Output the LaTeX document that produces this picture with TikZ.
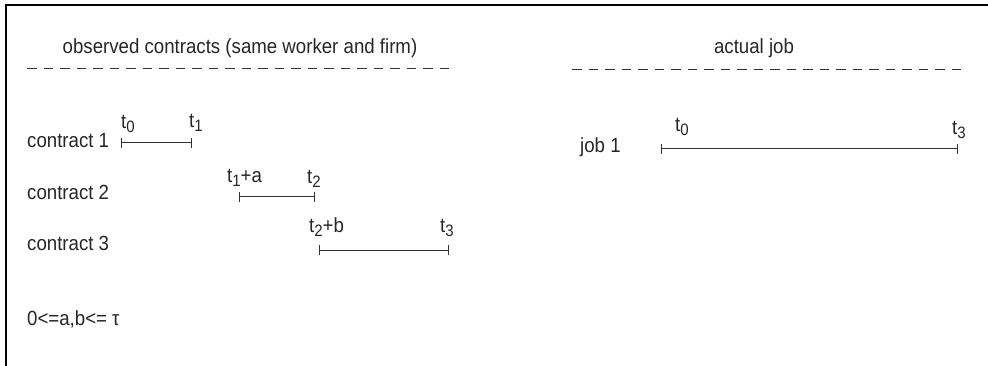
\documentclass[tikz,border=0pt]{standalone}
\usepackage{fontspec}
\setmainfont{Liberation Sans}[FakeStretch=0.91]
\usetikzlibrary{arrows.meta}
\newcommand\lsub[1]{\raisebox{-3.5pt}{\fontsize{16.5}{16.5}\selectfont #1}}
\begin{document}
\begin{tikzpicture}[x=1pt,y=-1pt,
  lbl/.style={anchor=base west, inner sep=0pt, font=\fontsize{20.5}{24}\selectfont, text=black!85},
  ttl/.style={anchor=base, inner sep=0pt, font=\fontsize{20.5}{24}\selectfont, text=black!85},
  dashline/.style={line width=0.9pt, black!80, dash pattern=on 9.5pt off 7pt},
  ivl/.style={line width=1pt, black!80, {Bar[width=10pt,line width=1pt]}-{Bar[width=10pt,line width=1pt]}},
  frame/.style={line width=1.7pt, black}]
\useasboundingbox (0,0) rectangle (988,366);
% frame
\draw[frame] (5.8,366) -- (5.8,4.8) -- (988,4.8);
% titles
\node[ttl] (tobs) at (240,54) {observed contracts (same worker and firm)};
\node[ttl] (tjob) at (754,54) {actual job};
\coordinate (d1a) at (27,68); \coordinate (d1b) at (452,68);
\coordinate (d2a) at (572,69); \coordinate (d2b) at (966,69);
\draw[dashline] (d1a) -- (d1b);
\draw[dashline] (d2a) -- (d2b);
% row labels
\node[lbl] (c1) at (27,148) {contract 1};
\node[lbl] (c2) at (27,200) {contract 2};
\node[lbl] (c3) at (27,251) {contract 3};
\node[lbl] (j1) at (580,153) {job 1};
\node[lbl] (cond) at (27,325) {0<=a,b<= τ};
% intervals
\coordinate (a1) at (120.5,143); \coordinate (b1) at (191.5,143);
\coordinate (a2) at (238.5,197); \coordinate (b2) at (314.5,197);
\coordinate (a3) at (319,250.5); \coordinate (b3) at (449,250.5);
\coordinate (aj) at (661,149); \coordinate (bj) at (957.5,149);
\draw[ivl] (a1) -- (b1);
\draw[ivl] (a2) -- (b2);
\draw[ivl] (a3) -- (b3);
\draw[ivl] (aj) -- (bj);
% end labels
\node[lbl] (l10) at (121,129) {t\lsub{0}};
\node[lbl] (l11) at (189,128) {t\lsub{1}};
\node[lbl] (l20) at (227,183) {t\lsub{1}+a};
\node[lbl] (l21) at (307,184) {t\lsub{2}};
\node[lbl] (l30) at (309,233) {t\lsub{2}+b};
\node[lbl] (l31) at (440,233) {t\lsub{3}};
\node[lbl] (lj0) at (675,132) {t\lsub{0}};
\node[lbl] (lj1) at (952,135) {t\lsub{3}};
\end{tikzpicture}
\end{document}
